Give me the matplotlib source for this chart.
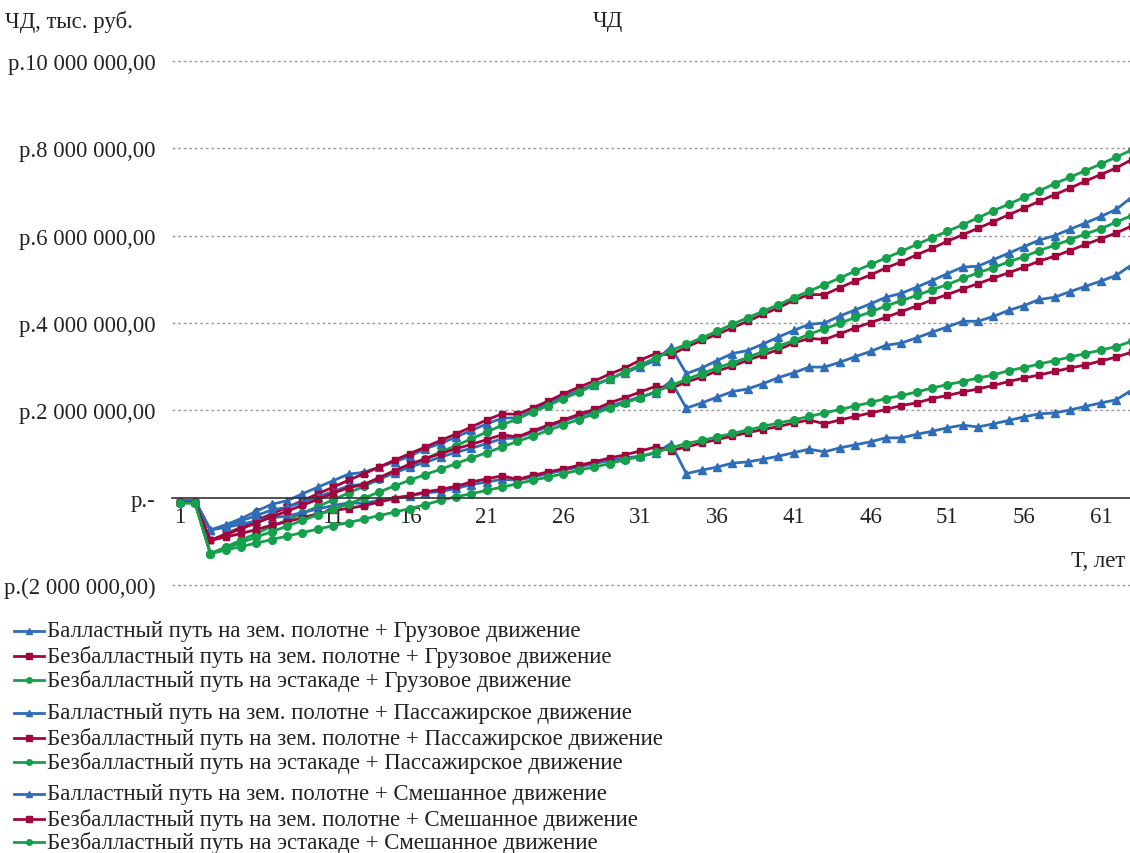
import numpy as np
import matplotlib
matplotlib.use("Agg")
import matplotlib.pyplot as plt
from matplotlib.lines import Line2D
from matplotlib.ticker import FuncFormatter

plt.rcParams["font.family"] = ["Liberation Serif", "DejaVu Serif"]

# years of operation
years = list(range(1, 64))

# net income, million rubles
freight_ballast = [
    -0.07, -0.07, -0.74, -0.62, -0.48, -0.31, -0.15, -0.07, 0.09, 0.24,
    0.39, 0.54, 0.58, 0.70, 0.82, 0.95, 1.12, 1.24, 1.39, 1.54,
    1.69, 1.82, 1.83, 2.00, 2.17, 2.32, 2.46, 2.59, 2.72, 2.86,
    3.00, 3.14, 3.45, 2.84, 2.97, 3.14, 3.30, 3.37, 3.52, 3.68,
    3.83, 3.97, 4.00, 4.16, 4.30, 4.44, 4.59, 4.68, 4.82, 4.97,
    5.13, 5.28, 5.30, 5.45, 5.60, 5.75, 5.90, 6.00, 6.15, 6.29,
    6.44, 6.60, 6.88]
freight_slab = [
    -0.11, -0.11, -0.98, -0.83, -0.68, -0.52, -0.37, -0.22, -0.07, 0.09,
    0.24, 0.40, 0.55, 0.70, 0.86, 1.01, 1.16, 1.31, 1.46, 1.62,
    1.78, 1.92, 1.91, 2.06, 2.21, 2.38, 2.53, 2.67, 2.83, 2.97,
    3.15, 3.30, 3.27, 3.45, 3.60, 3.74, 3.89, 4.04, 4.20, 4.35,
    4.52, 4.65, 4.65, 4.81, 4.96, 5.10, 5.26, 5.40, 5.56, 5.71,
    5.87, 6.02, 6.17, 6.32, 6.48, 6.63, 6.79, 6.94, 7.09, 7.25,
    7.40, 7.55, 7.74]
freight_trestle = [
    -0.12, -0.12, -1.28, -1.13, -0.97, -0.82, -0.66, -0.51, -0.36, -0.20,
    -0.05, 0.11, 0.26, 0.42, 0.57, 0.72, 0.89, 1.05, 1.19, 1.35,
    1.50, 1.66, 1.81, 1.96, 2.11, 2.27, 2.42, 2.57, 2.72, 2.88,
    3.04, 3.20, 3.37, 3.51, 3.66, 3.81, 3.97, 4.12, 4.27, 4.42,
    4.58, 4.73, 4.88, 5.03, 5.19, 5.34, 5.49, 5.64, 5.80, 5.95,
    6.10, 6.25, 6.41, 6.57, 6.72, 6.88, 7.03, 7.19, 7.34, 7.49,
    7.64, 7.80, 7.96]

passenger_ballast = [
    -0.07, -0.07, -0.74, -0.68, -0.61, -0.53, -0.46, -0.42, -0.34, -0.26,
    -0.18, -0.12, -0.13, -0.06, 0.00, 0.04, 0.11, 0.14, 0.21, 0.30,
    0.36, 0.42, 0.40, 0.47, 0.55, 0.63, 0.70, 0.78, 0.85, 0.91,
    0.95, 1.02, 1.24, 0.55, 0.63, 0.70, 0.79, 0.82, 0.88, 0.95,
    1.03, 1.11, 1.05, 1.14, 1.21, 1.28, 1.37, 1.37, 1.45, 1.52,
    1.60, 1.66, 1.62, 1.69, 1.77, 1.85, 1.92, 1.94, 2.01, 2.09,
    2.17, 2.24, 2.46]
passenger_slab = [
    -0.11, -0.11, -0.98, -0.90, -0.82, -0.73, -0.63, -0.55, -0.46, -0.37,
    -0.29, -0.25, -0.18, -0.10, -0.02, 0.05, 0.13, 0.19, 0.26, 0.36,
    0.43, 0.50, 0.42, 0.51, 0.59, 0.66, 0.74, 0.82, 0.91, 0.98,
    1.07, 1.16, 1.08, 1.16, 1.25, 1.33, 1.41, 1.49, 1.56, 1.63,
    1.71, 1.78, 1.69, 1.78, 1.86, 1.94, 2.02, 2.11, 2.17, 2.27,
    2.34, 2.42, 2.49, 2.57, 2.66, 2.74, 2.81, 2.89, 2.97, 3.04,
    3.13, 3.22, 3.33]
passenger_trestle = [
    -0.12, -0.12, -1.28, -1.20, -1.12, -1.04, -0.96, -0.88, -0.80, -0.72,
    -0.64, -0.57, -0.49, -0.41, -0.33, -0.25, -0.16, -0.06, 0.02, 0.09,
    0.17, 0.24, 0.32, 0.40, 0.47, 0.55, 0.63, 0.70, 0.78, 0.87,
    0.94, 1.04, 1.14, 1.24, 1.31, 1.39, 1.47, 1.55, 1.63, 1.71,
    1.78, 1.86, 1.94, 2.02, 2.10, 2.18, 2.27, 2.34, 2.42, 2.51,
    2.59, 2.66, 2.74, 2.81, 2.91, 2.98, 3.06, 3.14, 3.22, 3.30,
    3.38, 3.46, 3.58]

mixed_ballast = [
    -0.07, -0.07, -0.74, -0.64, -0.53, -0.41, -0.28, -0.22, -0.10, 0.02,
    0.14, 0.27, 0.31, 0.44, 0.57, 0.70, 0.81, 0.93, 1.04, 1.13,
    1.24, 1.35, 1.37, 1.50, 1.62, 1.75, 1.87, 1.97, 2.10, 2.20,
    2.31, 2.40, 2.67, 2.05, 2.17, 2.30, 2.43, 2.49, 2.61, 2.75,
    2.86, 2.99, 2.99, 3.10, 3.23, 3.35, 3.49, 3.54, 3.66, 3.79,
    3.91, 4.04, 4.04, 4.15, 4.29, 4.40, 4.54, 4.59, 4.72, 4.84,
    4.96, 5.09, 5.33]
mixed_slab = [
    -0.11, -0.11, -0.98, -0.85, -0.71, -0.58, -0.44, -0.31, -0.17, -0.04,
    0.10, 0.23, 0.30, 0.46, 0.62, 0.77, 0.89, 1.01, 1.12, 1.22,
    1.33, 1.44, 1.39, 1.53, 1.66, 1.78, 1.91, 2.02, 2.17, 2.29,
    2.42, 2.55, 2.50, 2.65, 2.76, 2.90, 3.01, 3.15, 3.27, 3.39,
    3.54, 3.65, 3.62, 3.75, 3.89, 4.01, 4.13, 4.26, 4.39, 4.53,
    4.65, 4.78, 4.90, 5.03, 5.15, 5.28, 5.42, 5.53, 5.66, 5.80,
    5.93, 6.06, 6.22]
mixed_trestle = [
    -0.12, -0.12, -1.28, -1.16, -1.03, -0.90, -0.78, -0.65, -0.52, -0.39,
    -0.27, -0.14, -0.01, 0.13, 0.27, 0.40, 0.53, 0.65, 0.78, 0.91,
    1.03, 1.16, 1.29, 1.41, 1.54, 1.67, 1.79, 1.92, 2.05, 2.17,
    2.29, 2.43, 2.57, 2.71, 2.84, 2.97, 3.09, 3.21, 3.35, 3.47,
    3.60, 3.74, 3.87, 3.99, 4.13, 4.25, 4.39, 4.51, 4.63, 4.76,
    4.88, 5.02, 5.15, 5.27, 5.40, 5.52, 5.66, 5.78, 5.91, 6.04,
    6.16, 6.31, 6.46]

track_names = [
    "Балластный путь на зем. полотне",
    "Безбалластный путь на зем. полотне",
    "Безбалластный путь на эстакаде",
]
traffic_names = ["Грузовое движение", "Пассажирское движение", "Смешанное движение"]

series = [
    [freight_ballast, freight_slab, freight_trestle],
    [passenger_ballast, passenger_slab, passenger_trestle],
    [mixed_ballast, mixed_slab, mixed_trestle],
]

colors = ["#2f6db8", "#a2043e", "#15a04c"]
markers = ["^", "s", "o"]
msizes = [5.5, 5, 5.5]
txt = "#222222"

W, H = 1130, 854
fig = plt.figure(figsize=(W / 100, H / 100), dpi=100)
ax = fig.add_axes([172 / W, (H - 586) / H, (1130 - 172) / W, (586 - 62) / H])

for group in series:
    for k, values in enumerate(group):
        ax.plot(years, np.array(values) * 1e6, color=colors[k], lw=2,
                marker=markers[k], ms=msizes[k], mec=colors[k])

ax.set_xlim(0.5, 62.9)
ax.set_ylim(-2e6, 10e6)
ax.set_yticks(np.arange(-2e6, 10.1e6, 2e6))


def rub(v, pos):
    if abs(v) < 1:
        return "р.-"
    s = "{:,.2f}".format(abs(v)).replace(",", " ").replace(".", ",")
    if v < 0:
        return "р.(" + s + ")"
    return "р." + s


ax.yaxis.set_major_formatter(FuncFormatter(rub))
ax.set_xticks(years[::5])
ax.tick_params(axis="both", length=0, labelsize=16.4, colors=txt)
ax.tick_params(axis="y", pad=12)
ax.tick_params(axis="x", pad=6)

for y in np.arange(-2e6, 10.1e6, 2e6):
    if y != 0:
        ax.axhline(y, color="#9a9a9a", lw=1, ls=(0, (2, 2)), zorder=0, clip_on=False)

for side in ["left", "right", "top"]:
    ax.spines[side].set_visible(False)
ax.spines["bottom"].set_position(("data", 0))
ax.spines["bottom"].set_color("#333333")
ax.spines["bottom"].set_linewidth(1.2)

fig.text(5 / W, 1 - 22 / H, "ЧД, тыс. руб.", fontsize=16.4, va="center", ha="left", color=txt)
fig.text(608 / W, 1 - 22 / H, "ЧД", fontsize=16.4, va="center", ha="center", color=txt)
fig.text(1125 / W, 1 - 562 / H, "Т, лет", fontsize=16.4, va="center", ha="right", color=txt)

# legend rows, grouped by traffic type
rows_y = [632, 657, 681, 714, 739, 763, 795, 820, 843]
i = 0
for t in range(3):
    for k in range(3):
        yf = 1 - rows_y[i] / H
        fig.add_artist(Line2D([14 / W, 44 / W], [yf, yf], color=colors[k], lw=2,
                              transform=fig.transFigure))
        fig.add_artist(Line2D([29 / W], [yf], color=colors[k], marker=markers[k],
                              ms=4, transform=fig.transFigure))
        fig.text(47 / W, yf, track_names[k] + " + " + traffic_names[t], fontsize=16.4,
                 va="center", ha="left", color=txt)
        i += 1

fig.savefig("out.png", dpi=100)
